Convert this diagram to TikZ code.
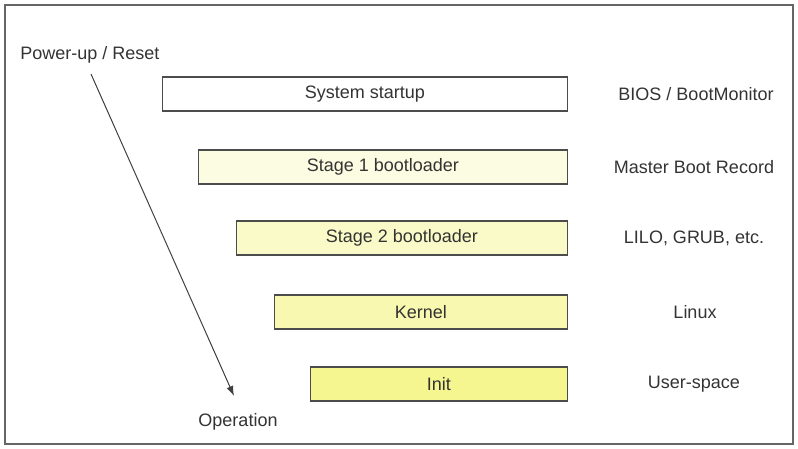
\documentclass[tikz,border=0pt]{standalone}
\usepackage{fontspec}
\setmainfont{Liberation Sans}
\usetikzlibrary{positioning}
\usetikzlibrary{arrows,arrows.meta}
\definecolor{fillA}{HTML}{FCFCE2}
\definecolor{fillB}{HTML}{FAFAC8}
\definecolor{fillC}{HTML}{F8F8B0}
\definecolor{fillD}{HTML}{F6F690}
\tikzstyle{stage} = [draw=black!70, line width=1.2pt, rectangle, minimum height=34pt, anchor=east, font=\fontsize{18}{20}\selectfont, text=black!80]
\tikzstyle{side} = [font=\fontsize{18}{20}\selectfont, text=black!80]

\begin{document}
\begin{tikzpicture}[x=1pt, y=-1pt, >={Latex[length=10pt,width=7pt]}]
	\useasboundingbox (0,0) rectangle (798,448);
	\draw [black!60, line width=1.5pt] (5,5) rectangle (793,444);
	\node [stage, minimum width=405pt, fill=white] (startup) at (568,94) {System startup};
	\node [stage, minimum width=369pt, fill=fillA] (stage1) at (568,167) {Stage 1 bootloader};
	\node [stage, minimum width=331pt, fill=fillB] (stage2) at (568,238) {Stage 2 bootloader};
	\node [stage, minimum width=293pt, fill=fillC] (kernel) at (568,312) {Kernel};
	\node [stage, minimum width=257pt, fill=fillD] (init) at (568,384) {Init};
	\node [side] (bios) at (696,94) {BIOS / BootMonitor};
	\node [side] (mbr) at (694,167) {Master Boot Record};
	\node [side] (grub) at (694,238) {LILO, GRUB, etc.};
	\node [side] (linux) at (695,312) {Linux};
	\node [side] (user) at (694,384) {User-space};
	\node [side] (power) at (90,55) {Power-up / Reset};
	\node [side] (oper) at (238,422) {Operation};
	\coordinate (pstart) at (91,74);
	\coordinate (pend) at (234,396);

	\draw [->, black!75, line width=1pt] (pstart) -- (pend);
\end{tikzpicture}
\end{document}
